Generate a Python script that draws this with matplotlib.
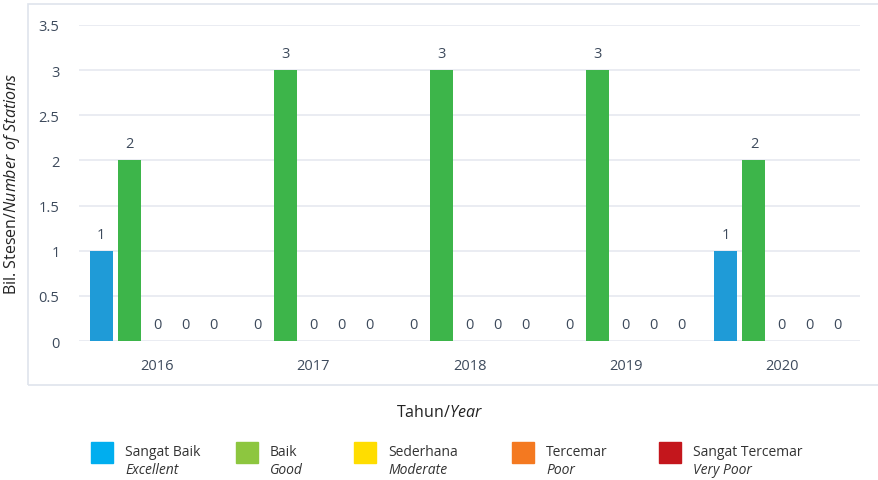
import numpy as np
import matplotlib.pyplot as plt
from matplotlib.patches import Rectangle

# Data
years = ['2016', '2017', '2018', '2019', '2020']
sangat_baik = [1, 0, 0, 0, 1]
baik = [2, 3, 3, 3, 2]
sederhana = [0, 0, 0, 0, 0]
tercemar = [0, 0, 0, 0, 0]
sangat_tercemar = [0, 0, 0, 0, 0]

series = [sangat_baik, baik, sederhana, tercemar, sangat_tercemar]
bar_colors = ['#1f9bd7', '#3db54a', '#ffd700', '#f47920', '#c4161c']

legend_bm = ['Sangat Baik', 'Baik', 'Sederhana', 'Tercemar', 'Sangat Tercemar']
legend_en = ['Excellent', 'Good', 'Moderate', 'Poor', 'Very Poor']
legend_colors = ['#00aeef', '#8dc63f', '#ffdd00', '#f47920', '#c4161c']

text_col = '#3d4a5c'

plt.rcParams['font.family'] = ['Open Sans', 'DejaVu Sans']
plt.rcParams['mathtext.fontset'] = 'custom'
plt.rcParams['mathtext.rm'] = 'Open Sans'
plt.rcParams['mathtext.it'] = 'Open Sans:italic'

fig = plt.figure(figsize=(8.79, 4.81), dpi=100)

# outer light frame
frame = Rectangle((28 / 879, 1 - 386 / 481), 1.2, (386 - 5) / 481,
                  transform=fig.transFigure, fill=False,
                  edgecolor='#dfe4ec', linewidth=1.2)
fig.patches.append(frame)

ax = fig.add_axes([79 / 879, 1 - 342 / 481, (860 - 79) / 879, (342 - 26) / 481])

x = np.arange(len(years))
pitch = 0.179
width = 0.147
for i, (vals, col) in enumerate(zip(series, bar_colors)):
    pos = x + (i - 2) * pitch
    ax.bar(pos, vals, width, color=col, zorder=3, edgecolor='none')
    for p, v in zip(pos, vals):
        ax.text(p, v + 0.1, str(v), ha='center', va='bottom',
                fontsize=10.5, color=text_col)

ax.set_xlim(-0.5, 4.5)
ax.set_ylim(0, 3.5)
ax.set_yticks(np.arange(0, 3.51, 0.5))
ax.set_yticklabels(['0', '0.5', '1', '1.5', '2', '2.5', '3', '3.5'])
ax.set_xticks(x)
ax.set_xticklabels(years)
ax.tick_params(axis='both', length=0, labelsize=10.5, colors=text_col)
ax.tick_params(axis='y', pad=14)
ax.tick_params(axis='x', pad=12)
ax.grid(axis='y', color='#e6e9f0', linewidth=1.2, zorder=0)
for s in ax.spines.values():
    s.set_visible(False)

ax.set_ylabel('Bil. Stesen/$\\mathit{Number\\ of\\ Stations}$', fontsize=11.5,
              color='#222222', labelpad=12)

fig.text(0.5, 1 - 413 / 481, 'Tahun/$\\mathit{Year}$', ha='center', va='center',
         fontsize=11.5, color='#222222')

# legend
leg_x = [91, 236, 354, 512, 659]
for lx, c, bm, en in zip(leg_x, legend_colors, legend_bm, legend_en):
    fig.patches.append(Rectangle((lx / 879, 1 - 464 / 481), 22 / 879, 21 / 481,
                                 transform=fig.transFigure, color=c))
    fig.text((lx + 34) / 879, 1 - 453 / 481, bm, fontsize=10, color='#333333',
             va='center', ha='left')
    fig.text((lx + 34) / 879, 1 - 471 / 481, en, fontsize=10, color='#333333',
             va='center', ha='left', style='italic')

fig.savefig('out.png', dpi=100)
